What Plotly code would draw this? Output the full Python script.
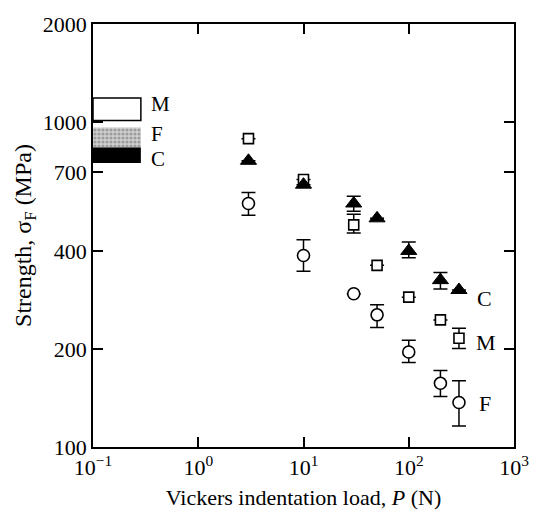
import math
import plotly.graph_objects as go

# ---- data ----
loads = [3, 10, 30, 50, 100, 200, 300]

M_strength = [888, 665, 482, 362, 289, 246, 216]
M_err_plus = [0, 0, 38, 0, 0, 0, 16]
M_err_minus = [0, 0, 27, 0, 0, 0, 15]

C_strength = [759, 641, 561, 505, 401, 326, 304]
C_err_plus = [0, 0, 30, 0, 26, 18, 0]
C_err_minus = [0, 0, 30, 0, 19, 20, 0]

F_strength = [561, 388, 296, 255, 196, 157, 137]
F_err_plus = [45, 46, 0, 19, 17, 15, 23]
F_err_minus = [45, 41, 0, 22, 14, 14, 21]

# unindented strength ranges (left-hand bars)
range_names = ["M", "F", "C"]
range_low = [1009, 836, 747]
range_high = [1185, 961, 836]
range_label_y = [1135, 915, 768]

# end labels
end_names = ["C", "M", "F"]
end_x = [425, 415, 445]
end_y = [286, 210, 136]

x_tickvals = [0.1, 1, 10, 100, 1000]
x_ticktext = ["10<sup>−1</sup>", "10<sup>0</sup>", "10<sup>1</sup>", "10<sup>2</sup>", "10<sup>3</sup>"]
y_tickvals = [100, 200, 400, 700, 1000, 2000]

FONT = "Liberation Serif"
FS = 22

fig = go.Figure()


def err(plus, minus):
    return dict(type="data", array=plus, arrayminus=minus, visible=True,
                color="black", thickness=1.5, width=7)


fig.add_trace(go.Scatter(
    x=loads, y=F_strength, mode="markers",
    error_y=err(F_err_plus, F_err_minus),
    marker=dict(symbol="circle", size=12, color="white",
                line=dict(color="black", width=1.6)),
    showlegend=False))

fig.add_trace(go.Scatter(
    x=loads, y=M_strength, mode="markers",
    error_y=err(M_err_plus, M_err_minus),
    marker=dict(symbol="square", size=10, color="white",
                line=dict(color="black", width=1.6)),
    showlegend=False))

fig.add_trace(go.Scatter(
    x=loads, y=C_strength, mode="markers",
    error_y=err(C_err_plus, C_err_minus),
    marker=dict(symbol="triangle-up", size=14, color="black",
                line=dict(color="black", width=1)),
    showlegend=False))

# range bars at left
bar_x0, bar_x1 = 0.1, 0.285
for name, lo, hi, ly in zip(range_names, range_low, range_high, range_label_y):
    if name == "M":
        fig.add_shape(type="rect", xref="x", yref="y", x0=bar_x0, x1=bar_x1,
                      y0=lo, y1=hi, fillcolor="white",
                      line=dict(color="black", width=1.5), layer="below")
    elif name == "F":
        fig.add_trace(go.Scatter(
            x=[bar_x0, bar_x1, bar_x1, bar_x0, bar_x0],
            y=[lo, lo, hi, hi, lo], mode="lines", fill="toself",
            line=dict(width=0, color="rgba(0,0,0,0)"),
            fillcolor="#b0b0b0",
            fillpattern=dict(shape=".", fgcolor="#6a6a6a", bgcolor="#d0d0d0",
                             size=4, solidity=0.5),
            hoverinfo="skip", showlegend=False))
    else:
        fig.add_shape(type="rect", xref="x", yref="y", x0=bar_x0, x1=bar_x1,
                      y0=lo, y1=hi, fillcolor="black",
                      line=dict(color="black", width=0), layer="below")
    fig.add_annotation(x=math.log10(0.34), y=math.log10(ly), xref="x", yref="y",
                       text=name, showarrow=False, xanchor="left", yanchor="middle",
                       font=dict(family=FONT, size=21, color="black"))

for name, xx, yy in zip(end_names, end_x, end_y):
    fig.add_annotation(x=math.log10(xx), y=math.log10(yy), xref="x", yref="y",
                       text=name, showarrow=False, xanchor="left", yanchor="middle",
                       font=dict(family=FONT, size=FS, color="black"))

axis_common = dict(showline=True, linecolor="black", linewidth=1.5,
                   mirror="allticks", ticks="inside", ticklen=10,
                   tickwidth=1.5, tickcolor="black", showgrid=False,
                   zeroline=False, tickfont=dict(family=FONT, size=FS, color="black"))

fig.update_xaxes(type="log", range=[-1, 3], tickvals=x_tickvals,
                 ticktext=x_ticktext,
                 title=dict(text="Vickers indentation load, <i>P</i> (N)",
                            font=dict(family=FONT, size=FS, color="black"),
                            standoff=10),
                 **axis_common)
fig.update_yaxes(type="log", range=[2, 3.30103], tickvals=y_tickvals,
                 ticktext=[str(v) for v in y_tickvals],
                 title=dict(text="Strength, σ<sub>F</sub> (MPa)",
                            font=dict(family=FONT, size=24, color="black"),
                            standoff=4),
                 **axis_common)

fig.update_layout(width=541, height=521,
                  margin=dict(l=93, r=17, t=18, b=74),
                  plot_bgcolor="white", paper_bgcolor="white",
                  showlegend=False)

fig.write_html("out.html")
